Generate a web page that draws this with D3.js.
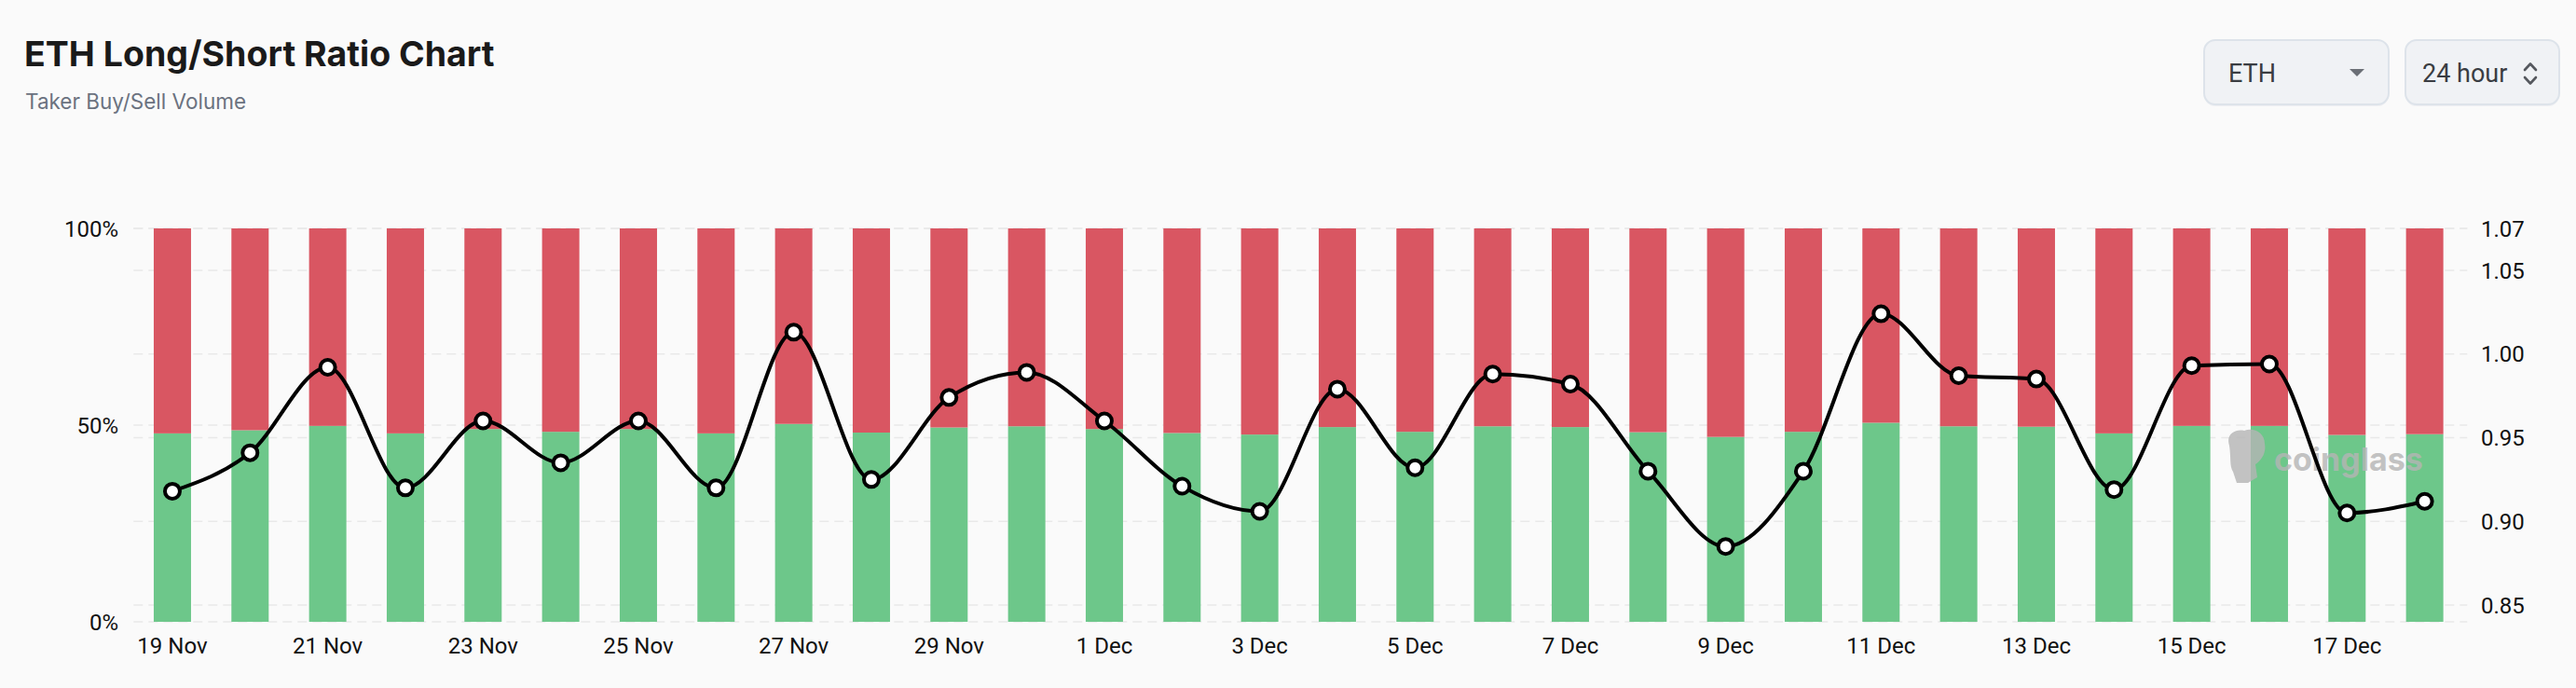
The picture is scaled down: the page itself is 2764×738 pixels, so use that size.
<!DOCTYPE html>
<html>
<head>
<meta charset="utf-8">
<title>ETH Long/Short Ratio Chart</title>
<style>
  html, body { margin: 0; padding: 0; background: #fafafa; }
  svg { display: block; }
</style>
</head>
<body>
<script src="https://d3js.org/d3.v7.min.js"></script>
<script>
// daily categories, 19 Nov .. 18 Dec
var days = ["19 Nov","20 Nov","21 Nov","22 Nov","23 Nov","24 Nov","25 Nov","26 Nov","27 Nov","28 Nov",
            "29 Nov","30 Nov","1 Dec","2 Dec","3 Dec","4 Dec","5 Dec","6 Dec","7 Dec","8 Dec",
            "9 Dec","10 Dec","11 Dec","12 Dec","13 Dec","14 Dec","15 Dec","16 Dec","17 Dec","18 Dec"];
// long share (%) - green part of each bar, short = 100 - long
var longPct = [47.9,48.7,49.8,47.9,49.0,48.3,49.0,47.9,50.3,48.1,
               49.4,49.7,49.0,48.0,47.6,49.5,48.3,49.7,49.5,48.2,
               47.0,48.3,50.6,49.7,49.6,47.9,49.8,49.8,47.5,47.7];
// long/short ratio (right axis)
var ratio = [0.918,0.941,0.992,0.920,0.960,0.935,0.960,0.920,1.013,0.925,
             0.974,0.989,0.960,0.921,0.906,0.979,0.932,0.988,0.982,0.930,
             0.885,0.930,1.024,0.987,0.985,0.919,0.993,0.994,0.905,0.912];
var xTickLabels = ["19 Nov","21 Nov","23 Nov","25 Nov","27 Nov","29 Nov","1 Dec","3 Dec",
                   "5 Dec","7 Dec","9 Dec","11 Dec","13 Dec","15 Dec","17 Dec"];
var leftTicks = [0, 0.5, 1];
var leftTickLabels = ["0%","50%","100%"];
var rightTicks = [0.85, 0.90, 0.95, 1.00, 1.05, 1.075];
var rightTickLabels = ["0.85","0.90","0.95","1.00","1.05","1.07"];
var ratioRange = [0.84, 1.075];

var W = 2764, H = 738;
var plotL = 143.3, plotR = 2643.3, plotT = 245, plotB = 667;
var GREEN = "#6dc78a", RED = "#d95662", GRID = "#e9e9e9";
var tickFont = "Roboto, 'Noto Sans', sans-serif";

var svg = d3.select("body").append("svg")
    .attr("width", W).attr("height", H);
svg.append("rect").attr("width", W).attr("height", H).attr("fill", "#fafafa");

var x = d3.scaleBand().domain(days).range([plotL, plotR])
    .paddingInner(0.52).paddingOuter(0.26);
var yPct = d3.scaleLinear().domain([0, 1]).range([plotB, plotT]);
var yRatio = d3.scaleLinear().domain(ratioRange).range([plotB, plotT]);

// title block
svg.append("text").text("ETH Long/Short Ratio Chart")
    .attr("x", 26).attr("y", 71)
    .attr("font-family", "Inter, sans-serif").attr("font-weight", 700)
    .attr("font-size", 37.5).attr("fill", "#1a1a1a");
svg.append("text").text("Taker Buy/Sell Volume")
    .attr("x", 27).attr("y", 117)
    .attr("font-family", "Inter, sans-serif")
    .attr("font-size", 22.5).attr("fill", "#6b7280");

// select boxes (top right)
function box(x0, w) {
    svg.append("rect").attr("x", x0).attr("y", 45).attr("width", w).attr("height", 69)
        .attr("rx", 12).attr("fill", "#e6e8ec").attr("opacity", 0.6);
    svg.append("rect").attr("x", x0).attr("y", 43).attr("width", w).attr("height", 69)
        .attr("rx", 12).attr("fill", "#f0f2f5").attr("stroke", "#dde3ea").attr("stroke-width", 2);
}
box(2365, 198);
box(2581, 165);
svg.append("text").text("ETH").attr("x", 2391).attr("y", 88)
    .attr("font-family", tickFont).attr("font-size", 27).attr("fill", "#3a3d42");
svg.append("path").attr("d", "M2521,74 L2537,74 L2529,82 Z").attr("fill", "#6b6f76");
svg.append("text").text("24 hour").attr("x", 2599).attr("y", 88)
    .attr("font-family", tickFont).attr("font-size", 27).attr("fill", "#3a3d42");
svg.append("path").attr("d", "M2709,75 L2715,68.5 L2721,75 M2709,83 L2715,89.5 L2721,83")
    .attr("fill", "none").attr("stroke", "#55585e").attr("stroke-width", 2.6)
    .attr("stroke-linecap", "round").attr("stroke-linejoin", "round");

// gridlines
var grid = svg.append("g");
grid.selectAll("line.l").data(leftTicks).enter().append("line")
    .attr("x1", plotL).attr("x2", plotR + 4)
    .attr("y1", function (d) { return yPct(d); }).attr("y2", function (d) { return yPct(d); })
    .attr("stroke", GRID).attr("stroke-width", 1.5).attr("stroke-dasharray", "10,6");
grid.selectAll("line.r").data(rightTicks).enter().append("line")
    .attr("x1", plotL).attr("x2", plotR + 4)
    .attr("y1", function (d) { return yRatio(d); }).attr("y2", function (d) { return yRatio(d); })
    .attr("stroke", GRID).attr("stroke-width", 1.5).attr("stroke-dasharray", "10,6");

// stacked bars
var bars = svg.append("g");
bars.selectAll("rect.long").data(days).enter().append("rect")
    .attr("x", function (d) { return x(d); })
    .attr("width", x.bandwidth())
    .attr("y", function (d, i) { return yPct(longPct[i] / 100); })
    .attr("height", function (d, i) { return yPct(0) - yPct(longPct[i] / 100); })
    .attr("fill", GREEN);
bars.selectAll("rect.short").data(days).enter().append("rect")
    .attr("x", function (d) { return x(d); })
    .attr("width", x.bandwidth())
    .attr("y", yPct(1))
    .attr("height", function (d, i) { return yPct(longPct[i] / 100) - yPct(1); })
    .attr("fill", RED);

// watermark
var wm = svg.append("g").attr("opacity", 0.8);
wm.append("path")
    .attr("d", "M2392,478 C2388,466 2398,460 2408,462 C2418,458 2430,464 2430,476 C2432,486 2426,494 2420,498 L2422,512 L2412,518 L2400,518 L2396,506 C2392,500 2394,490 2392,478 Z")
    .attr("fill", "#b5b5b5");
wm.append("text").text("coinglass").attr("x", 2440).attr("y", 505)
    .attr("font-family", "Inter, sans-serif").attr("font-weight", 700)
    .attr("font-size", 34).attr("fill", "#b5b5b5");

// ratio line
var line = d3.line()
    .x(function (d, i) { return x(days[i]) + x.bandwidth() / 2; })
    .y(function (d) { return yRatio(d); })
    .curve(d3.curveMonotoneX);
svg.append("path").datum(ratio).attr("d", line)
    .attr("fill", "none").attr("stroke", "#000").attr("stroke-width", 4);
svg.append("g").selectAll("circle").data(ratio).enter().append("circle")
    .attr("cx", function (d, i) { return x(days[i]) + x.bandwidth() / 2; })
    .attr("cy", function (d) { return yRatio(d); })
    .attr("r", 8)
    .attr("fill", "#fff").attr("stroke", "#000").attr("stroke-width", 4);

// axes labels
svg.append("g").selectAll("text").data(leftTicks).enter().append("text")
    .text(function (d, i) { return leftTickLabels[i]; })
    .attr("x", 127).attr("y", function (d) { return yPct(d); })
    .attr("dy", "0.36em").attr("text-anchor", "end")
    .attr("font-family", tickFont).attr("font-size", 24).attr("fill", "#111");
svg.append("g").selectAll("text").data(rightTicks).enter().append("text")
    .text(function (d, i) { return rightTickLabels[i]; })
    .attr("x", 2662).attr("y", function (d) { return yRatio(d); })
    .attr("dy", "0.36em")
    .attr("font-family", tickFont).attr("font-size", 24).attr("fill", "#111");
svg.append("g").selectAll("text").data(xTickLabels).enter().append("text")
    .text(function (d) { return d; })
    .attr("x", function (d) { return x(d) + x.bandwidth() / 2; })
    .attr("y", 692).attr("dy", "0.36em").attr("text-anchor", "middle")
    .attr("font-family", tickFont).attr("font-size", 24).attr("fill", "#111");
</script>
</body>
</html>
